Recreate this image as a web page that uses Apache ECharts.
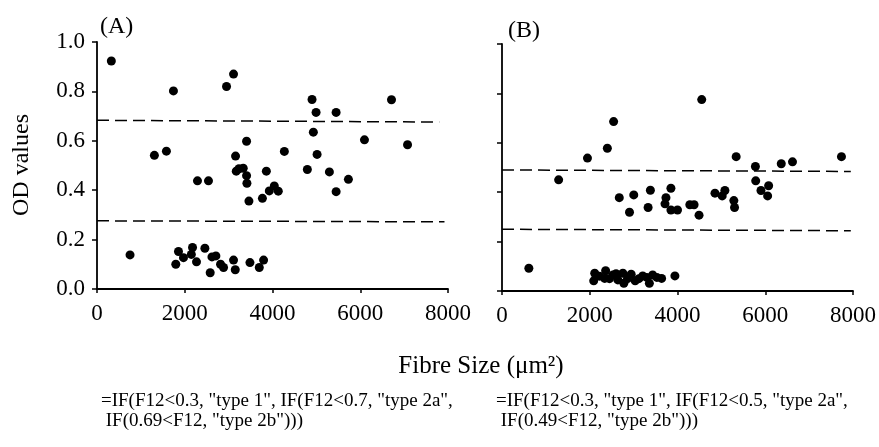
<!DOCTYPE html>
<html>
<head>
<meta charset="utf-8">
<script src="https://cdn.jsdelivr.net/npm/echarts@6/dist/echarts.min.js"></script>
<style>
html,body{margin:0;padding:0;background:#fff;}
#chart{width:879px;height:447px;}
</style>
</head>
<body>
<div id="chart"></div>
<script>
// Panel A: fibre size (µm²) and OD values
var fibreA = [327,1742,2952,3112,4901,4993,5450,6712,3409,4931,6096,7078,1308,1582,4270,5016,3158,3235,3333,3174,3409,3417,3860,4794,5297,5730,2290,2541,3463,3770,3927,4041,4132,5450,753,
  1857,1796,1971,2177,2268,2459,2580,2710,2816,2884,3112,3151,3486,3699,3797,2150,2620];
var odA = [0.923,0.802,0.820,0.870,0.767,0.715,0.715,0.766,0.598,0.635,0.604,0.584,0.541,0.558,0.557,0.545,0.538,0.487,0.489,0.477,0.459,0.428,0.477,0.484,0.474,0.444,0.438,0.438,0.356,0.367,0.397,0.417,0.396,0.394,0.138,
  0.152,0.100,0.127,0.168,0.110,0.165,0.066,0.134,0.100,0.087,0.117,0.078,0.107,0.087,0.117,0.140,0.130];

// Panel B
var fibreB = [2544,2401,1948,1291,4552,5337,5776,6365,6621,7737,3850,3382,3003,2673,3737,3715,3330,2906,3850,4000,4281,4378,4491,4854,5080,5019,5284,5300,5783,6077,5903,6054,612,
  2113,2090,2362,2340,2528,2641,2755,2777,2944,3035,3207,3359,3434,3638,3941,2220,2450,2860,3120,3300,2600,3530];
var odB = [0.686,0.578,0.538,0.450,0.775,0.544,0.504,0.515,0.523,0.544,0.416,0.408,0.389,0.378,0.378,0.353,0.338,0.319,0.328,0.328,0.349,0.349,0.307,0.396,0.407,0.385,0.366,0.338,0.446,0.426,0.407,0.385,0.092,
  0.072,0.041,0.082,0.051,0.065,0.045,0.072,0.031,0.068,0.041,0.061,0.031,0.065,0.051,0.061,0.060,0.050,0.050,0.050,0.055,0.070,0.055];

// Dashed threshold lines: [x start, x end] and [y start, y end]
var cutAUpperX = [0, 7800], cutAUpperY = [0.683, 0.676];
var cutALowerX = [0, 7920], cutALowerY = [0.276, 0.272];
var cutBUpperX = [0, 7950], cutBUpperY = [0.490, 0.484];
var cutBLowerX = [0, 7950], cutBLowerY = [0.250, 0.244];

// Axis settings
var xTicks = [0, 2000, 4000, 6000, 8000];
var yTicks = [0.0, 0.2, 0.4, 0.6, 0.8, 1.0];

var panelTitles = ['(A)', '(B)'];
var yTitle = 'OD values';
var xTitle = 'Fibre Size (\u03bcm\u00b2)';
var formulaA = ['=IF(F12<0.3, "type 1", IF(F12<0.7, "type 2a",', ' IF(0.69<F12, "type 2b")))'];
var formulaB = ['=IF(F12<0.3, "type 1", IF(F12<0.5, "type 2a",', ' IF(0.49<F12, "type 2b")))'];

function zip(a, b) { return a.map(function (v, i) { return [v, b[i]]; }); }

var FONT = '"Liberation Serif", "Times New Roman", serif';
var axisLine = { show: true, onZero: false, lineStyle: { color: '#000', width: 1.8 } };

function xAxisDef(gi) {
  return {
    type: 'value', gridIndex: gi, min: xTicks[0], max: xTicks[xTicks.length - 1],
    interval: xTicks[1] - xTicks[0],
    axisLine: axisLine,
    axisTick: { show: true, inside: false, length: 4, lineStyle: { color: '#000', width: 1.5 } },
    axisLabel: { show: true, margin: 13, color: '#000', fontFamily: FONT, fontSize: 23,
      formatter: function (v) { return String(v); } },
    splitLine: { show: false }
  };
}
function yAxisDef(gi, showLabels) {
  return {
    type: 'value', gridIndex: gi, min: yTicks[0], max: yTicks[yTicks.length - 1],
    interval: 0.2,
    axisLine: axisLine,
    axisTick: { show: true, inside: false, length: 5, lineStyle: { color: '#000', width: 1.5 } },
    axisLabel: { show: showLabels, margin: 12, color: '#000', fontFamily: FONT, fontSize: 23,
      formatter: function (v) { return v.toFixed(1); } },
    splitLine: { show: false }
  };
}
function scatter(xi, x, y) {
  return { type: 'scatter', xAxisIndex: xi, yAxisIndex: xi, data: zip(x, y),
    symbol: 'circle', symbolSize: 9, itemStyle: { color: '#000', opacity: 1 }, silent: true, z: 3 };
}
function dashed(xi, x, y) {
  return { type: 'line', xAxisIndex: xi, yAxisIndex: xi, data: zip(x, y),
    symbol: 'none', silent: true, z: 2,
    lineStyle: { color: '#000', width: 1.5, type: [12, 6] } };
}

var chart = echarts.init(document.getElementById('chart'), null, { renderer: 'canvas' });
chart.setOption({
  animation: false,
  backgroundColor: '#fff',
  grid: [
    { left: 97, top: 42, width: 351, height: 247 },
    { left: 502, top: 44, width: 353, height: 247 }
  ],
  xAxis: [xAxisDef(0), xAxisDef(1)],
  yAxis: [yAxisDef(0, true), yAxisDef(1, false)],
  series: [
    scatter(0, fibreA, odA),
    dashed(0, cutAUpperX, cutAUpperY),
    dashed(0, cutALowerX, cutALowerY),
    scatter(1, fibreB, odB),
    dashed(1, cutBUpperX, cutBUpperY),
    dashed(1, cutBLowerX, cutBLowerY)
  ],
  graphic: [
    { type: 'text', left: 100, top: 15, style: { text: panelTitles[0], font: '24px ' + FONT, fill: '#000' } },
    { type: 'text', left: 508, top: 19, style: { text: panelTitles[1], font: '24px ' + FONT, fill: '#000' } },
    { type: 'text', x: 22, y: 165, rotation: Math.PI / 2,
      style: { text: yTitle, font: '24px ' + FONT, fill: '#000', align: 'center', verticalAlign: 'middle' } },
    { type: 'text', x: 481, y: 366,
      style: { text: xTitle, font: '25px ' + FONT, fill: '#000', align: 'center', verticalAlign: 'middle' } },
    { type: 'text', x: 101, y: 401,
      style: { text: formulaA[0], font: '19px ' + FONT, fill: '#000', align: 'left', verticalAlign: 'middle' } },
    { type: 'text', x: 101, y: 421,
      style: { text: formulaA[1], font: '19px ' + FONT, fill: '#000', align: 'left', verticalAlign: 'middle' } },
    { type: 'text', x: 496, y: 401,
      style: { text: formulaB[0], font: '19px ' + FONT, fill: '#000', align: 'left', verticalAlign: 'middle' } },
    { type: 'text', x: 496, y: 421,
      style: { text: formulaB[1], font: '19px ' + FONT, fill: '#000', align: 'left', verticalAlign: 'middle' } }
  ]
});
</script>
</body>
</html>
